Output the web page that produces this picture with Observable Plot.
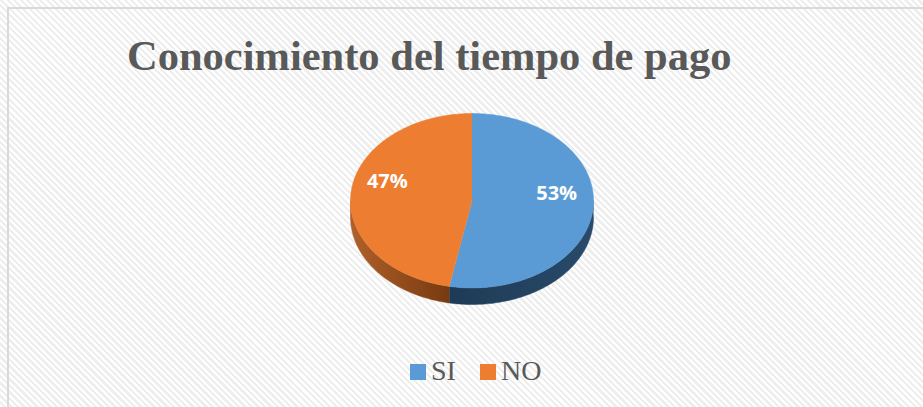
<!DOCTYPE html>
<html><head><meta charset="utf-8">
<script src="https://cdn.jsdelivr.net/npm/d3@7"></script>
<script src="https://cdn.jsdelivr.net/npm/@observablehq/plot@0.6"></script>
<style>
html,body{margin:0;padding:0;background:#fff;}
#wrap{position:relative;width:923px;height:407px;overflow:hidden;
 background: repeating-linear-gradient(45deg,#ffffff 0px,#ffffff 2.3px,#eeeeee 2.3px,#eeeeee 4.6px);}
#frame{position:absolute;left:7px;top:7px;width:1000px;height:500px;border-left:2px solid #d9d9d9;border-top:2px solid #d9d9d9;}
#title{position:absolute;left:127px;top:34px;font:bold 42.5px "Liberation Serif",serif;color:#595959;line-height:43px;white-space:nowrap;}
#chart{position:absolute;left:0;top:0;}
#legend{position:absolute;top:357px;left:410px;font:28px "Liberation Serif",serif;color:#595959;line-height:28px;white-space:nowrap;}
.item{display:inline-block;margin-right:24px;}
.sw{display:inline-block;width:16px;height:16px;margin-right:5px;vertical-align:baseline;}
</style>
</head><body>
<div id="wrap">
  <div id="frame"></div>
  <div id="chart"></div>
  <div id="title"></div>
  <div id="legend"></div>
</div>
<script>
const titleText = "Conocimiento del tiempo de pago";
const categories = ["SI", "NO"];
const values = [53, 47];
const topColors = ["#5b9bd5", "#ed7d31"];
const sideStart = ["#1f3a56", "#b0602a"];
const sideEnd = ["#294a6a", "#773a10"];

const depth = 0.19;
const arcs = d3.pie().sort(null)(values);

function arcPts(a0, a1, dy) {
  const n = Math.max(2, Math.ceil(Math.abs(a1 - a0) / (Math.PI / 180)));
  return d3.range(n + 1).map(i => {
    const a = a0 + (a1 - a0) * i / n;
    return {x: Math.sin(a), y: -Math.cos(a) + dy};
  });
}

// top faces
const topFaces = arcs.map((d, i) => [{x: 0, y: 0}, ...arcPts(d.startAngle, d.endAngle, 0)].map(p => ({...p, key: categories[i]})));
// visible side faces (front half)
const sideFaces = arcs.map((d, i) => {
  const a0 = Math.max(d.startAngle, Math.PI / 2), a1 = Math.min(d.endAngle, 3 * Math.PI / 2);
  if (a1 <= a0) return [];
  return [...arcPts(a0, a1, 0), ...arcPts(a1, a0, depth)].map(p => ({...p, key: categories[i]}));
});
// outline for soft shadow
const outline = [...arcPts(-Math.PI / 2, Math.PI / 2, 0), ...arcPts(Math.PI / 2, 3 * Math.PI / 2, depth)];
// labels
const labels = arcs.map((d, i) => {
  const a = (d.startAngle + d.endAngle) / 2;
  return {x: 0.7 * Math.sin(a), y: -0.7 * Math.cos(a), text: values[i] + "%"};
});

const marks = [
  Plot.line(outline, {x: "x", y: "y", fill: "#000", fillOpacity: 0.3, stroke: "none", ariaLabel: "shadow"}),
  ...sideFaces.map((pts, i) => Plot.line(pts, {x: "x", y: "y", z: "key", fill: `url(#side${i})`, stroke: `url(#side${i})`, strokeWidth: 0.5})),
  ...topFaces.map((pts, i) => Plot.line(pts, {x: "x", y: "y", z: "key", fill: topColors[i], stroke: topColors[i], strokeWidth: 0.5})),
  Plot.text(labels, {x: "x", y: "y", text: "text", fill: "#fff", fontWeight: "bold", fontSize: 20, fontFamily: "Open Sans", dy: -13})
];

const svg = Plot.plot({
  width: 923, height: 407,
  marginLeft: 350, marginRight: 330, marginTop: 113, marginBottom: 103,
  x: {domain: [-1, 1], axis: null},
  y: {domain: [-1, 1 + depth], reverse: true, axis: null},
  style: {background: "transparent", overflow: "visible"},
  marks
});

const defs = d3.select(svg).insert("defs", ":first-child");
sideStart.forEach((c, i) => {
  const g = defs.append("linearGradient").attr("id", "side" + i).attr("x1", 0).attr("x2", 1).attr("y1", 0).attr("y2", 0);
  g.append("stop").attr("offset", "0%").attr("stop-color", c);
  g.append("stop").attr("offset", "100%").attr("stop-color", sideEnd[i]);
});
defs.append("filter").attr("id", "blur").attr("x", "-20%").attr("y", "-20%").attr("width", "140%").attr("height", "140%")
  .append("feGaussianBlur").attr("stdDeviation", 3);
d3.select(svg).select('g[aria-label="shadow"]').attr("filter", "url(#blur)");

document.getElementById("chart").appendChild(svg);
document.getElementById("title").textContent = titleText;

const lg = d3.select("#legend");
categories.forEach((c, i) => {
  const it = lg.append("span").attr("class", "item");
  it.append("span").attr("class", "sw").style("background", topColors[i]);
  it.append("span").text(c);
});
</script>
</body></html>
